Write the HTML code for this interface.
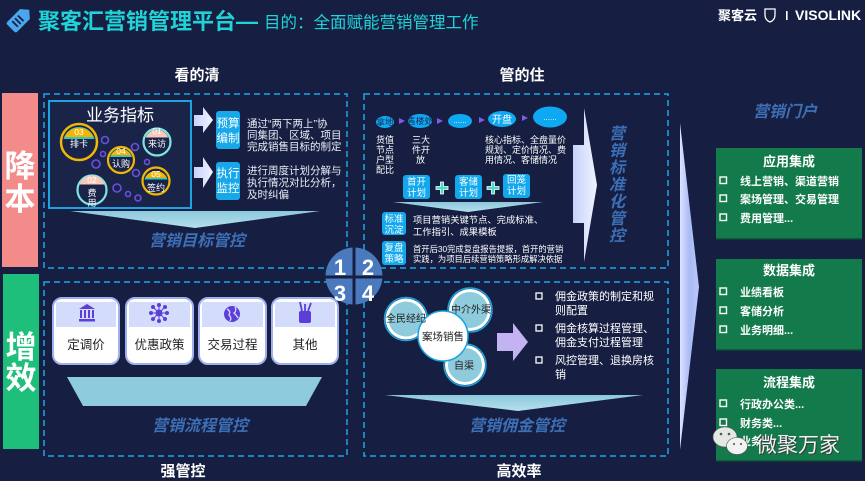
<!DOCTYPE html>
<html><head><meta charset="utf-8">
<style>
html,body{margin:0;padding:0;background:#161f42;}
svg{display:block;}
text{font-family:"Liberation Sans","Noto Sans CJK SC",sans-serif;}
.it{font-style:italic;font-weight:bold;fill:#3d6fb6;}
.w{fill:#fff;}
</style></head><body>
<svg width="865" height="481" viewBox="0 0 865 481" xmlns="http://www.w3.org/2000/svg">
<defs>
<linearGradient id="spike" x1="0" x2="1" y1="0" y2="0"><stop offset="0" stop-color="#c6d2fb"/><stop offset="1" stop-color="#f0f4ff"/></linearGradient>
<linearGradient id="big" x1="0" x2="1" y1="0" y2="0"><stop offset="0" stop-color="#dbe3ff"/><stop offset="0.5" stop-color="#a9baf5"/><stop offset="1" stop-color="#b9c7f8"/></linearGradient>
<linearGradient id="fun" x1="0" x2="0" y1="0" y2="1"><stop offset="0" stop-color="#8cc8dc"/><stop offset="1" stop-color="#b5e0ec"/></linearGradient>
</defs>
<rect width="865" height="481" fill="#161f42"/>

<!-- header -->
<g transform="translate(20,19) rotate(-45)">
<path d="M-11,-7 L7,-7 L13,0 L7,7 L-11,7 Q-13,7 -13,5 L-13,-5 Q-13,-7 -11,-7Z" fill="#4ba6ef"/>
<line x1="-7" y1="-4" x2="-7" y2="4" stroke="#161f42" stroke-width="1.8"/>
<line x1="-3" y1="-4" x2="-3" y2="4" stroke="#161f42" stroke-width="1.8"/>
<line x1="1" y1="-4" x2="1" y2="4" stroke="#161f42" stroke-width="1.8"/>
</g>
<text x="38" y="29" font-size="22" font-weight="bold" fill="#20d3d6">聚客汇营销管理平台—</text>
<text x="264" y="28" font-size="16.5" fill="#20d3d6">目的：全面赋能营销管理工作</text>
<text x="718" y="20" font-size="13" font-weight="bold" class="w">聚客云</text>
<path d="M765,9 L775,9 L775,15 Q775,20 770,22 Q765,20 765,15 Z" fill="none" stroke="#fff" stroke-width="1.3"/>
<rect x="786" y="11" width="1.6" height="9" fill="#fff"/>
<text x="795" y="20" font-size="14" font-weight="bold" class="w">VISOLINK</text>

<text x="197" y="80" font-size="15" font-weight="bold" class="w" text-anchor="middle">看的清</text>
<text x="522" y="80" font-size="15" font-weight="bold" class="w" text-anchor="middle">管的住</text>

<!-- side bars -->
<rect x="2" y="93" width="36" height="174" fill="#f28b8a"/>
<text x="20" y="177" font-size="31" font-weight="bold" class="w" text-anchor="middle">降</text>
<text x="20" y="210" font-size="31" font-weight="bold" class="w" text-anchor="middle">本</text>
<rect x="3" y="274" width="36" height="175" fill="#1dbf7a"/>
<text x="21" y="358" font-size="31" font-weight="bold" class="w" text-anchor="middle">增</text>
<text x="21" y="389" font-size="31" font-weight="bold" class="w" text-anchor="middle">效</text>

<!-- dashed boxes -->
<g fill="none" stroke="#1ba7e6" stroke-width="1.5" stroke-dasharray="6 4">
<rect x="44" y="94" width="303" height="174"/>
<rect x="364" y="94" width="304" height="174"/>
<rect x="44" y="282" width="303" height="174"/>
<rect x="364" y="282" width="304" height="174"/>
</g>

<!-- box 1 -->
<rect x="49" y="101" width="142" height="107" fill="#1a2449" stroke="#1da3e2" stroke-width="2"/>
<text x="120" y="121" font-size="17" class="w" text-anchor="middle">业务指标</text>
<g fill="none" stroke="#6a4fe0" stroke-width="1.6">
<circle cx="105" cy="140" r="3.5"/><circle cx="103" cy="154" r="2.5"/><circle cx="96" cy="164" r="4"/>
<circle cx="135" cy="147" r="3.5"/><circle cx="147" cy="162" r="2.5"/><circle cx="136" cy="173" r="3.5"/>
<circle cx="117" cy="188" r="4"/><circle cx="128" cy="194" r="2.5"/><circle cx="138" cy="198" r="3"/>
</g>
<!-- 03 -->
<circle cx="79" cy="142" r="18" fill="#1a2449" stroke="#f2b705" stroke-width="2.5"/>
<path d="M63.5,139 A16,16 0 0 1 94.5,139 Z" fill="#30c8c0"/>
<path d="M64.5,137 A16,16 0 0 1 93.5,137 Z" fill="#f5b400"/>
<text x="79" y="135" font-size="8.5" class="w" text-anchor="middle">03</text>
<text x="79" y="147" font-size="9" class="w" text-anchor="middle">排卡</text>
<!-- 01 -->
<circle cx="157" cy="142" r="13.5" fill="#1a2449" stroke="#7fe5df" stroke-width="2.2"/>
<path d="M145.8,137.5 A12,12 0 0 1 168.2,137.5 Z" fill="#f8c8b8"/>
<text x="157" y="134" font-size="8.5" class="w" text-anchor="middle">01</text>
<text x="157" y="147" font-size="9" class="w" text-anchor="middle">来访</text>
<!-- 04 -->
<circle cx="121" cy="160" r="13" fill="#1a2449" stroke="#f2b705" stroke-width="2.2"/>
<path d="M110,157 A11.5,11.5 0 0 1 132,157 Z" fill="#30c8c0"/>
<path d="M110.8,155.3 A11.5,11.5 0 0 1 131.2,155.3 Z" fill="#f5b400"/>
<text x="121" y="154" font-size="8.5" class="w" text-anchor="middle">04</text>
<text x="121" y="167" font-size="9" class="w" text-anchor="middle">认购</text>
<!-- 02 -->
<circle cx="92" cy="190" r="14.5" fill="#1a2449" stroke="#7fe5df" stroke-width="2.2"/>
<path d="M79.6,184.5 A13,13 0 0 1 104.4,184.5 Z" fill="#f8c8b8"/>
<text x="92" y="183" font-size="8.5" class="w" text-anchor="middle">02</text>
<text x="92" y="196" font-size="9" class="w" text-anchor="middle">费</text>
<text x="92" y="206" font-size="9" class="w" text-anchor="middle">用</text>
<!-- 05 -->
<circle cx="156" cy="181" r="13.5" fill="#1a2449" stroke="#f2b705" stroke-width="2.2"/>
<path d="M144.5,179.5 A12,12 0 0 1 167.5,179.5 Z" fill="#30c8c0"/>
<path d="M145.2,177.8 A12,12 0 0 1 166.8,177.8 Z" fill="#f5b400"/>
<text x="156" y="177" font-size="8.5" class="w" text-anchor="middle">05</text>
<text x="156" y="191" font-size="9" class="w" text-anchor="middle">签约</text>

<path d="M194,115 L203,115 L203,107 L213,120 L203,133 L203,126 L194,126 Z" fill="url(#spike)"/>
<path d="M194,167 L203,167 L203,157 L213,172 L203,188 L203,178 L194,178 Z" fill="url(#spike)"/>
<rect x="216" y="111" width="24" height="38" rx="3" fill="#18a8ea"/>
<text x="228" y="127" font-size="11.5" class="w" text-anchor="middle">预算</text>
<text x="228" y="142" font-size="11.5" class="w" text-anchor="middle">编制</text>
<rect x="216" y="162" width="24" height="38" rx="3" fill="#18a8ea"/>
<text x="228" y="177" font-size="11.5" class="w" text-anchor="middle">执行</text>
<text x="228" y="192" font-size="11.5" class="w" text-anchor="middle">监控</text>
<g font-size="10.5" fill="#e9edf6">
<text x="247" y="127">通过“两下两上”协</text>
<text x="247" y="138.5">同集团、区域、项目</text>
<text x="247" y="150">完成销售目标的制定</text>
<text x="247" y="174">进行周度计划分解与</text>
<text x="247" y="186">执行情况对比分析，</text>
<text x="247" y="198">及时纠偏</text>
</g>
<path d="M70,211 L320,211 L195,228 Z" fill="url(#fun)"/>
<text x="197" y="246" font-size="16" class="it" text-anchor="middle">营销目标管控</text>

<!-- box 2 -->
<g fill="#0fa8f2">
<ellipse cx="385" cy="122" rx="9" ry="6"/>
<ellipse cx="420" cy="121" rx="12" ry="7"/>
<ellipse cx="460" cy="121" rx="12" ry="7"/>
<ellipse cx="502" cy="119" rx="14" ry="8"/>
<ellipse cx="550" cy="117" rx="17" ry="10.5"/>
</g>
<g fill="#7c5ee6">
<path d="M399,118 L405,121 L399,124 Z"/><path d="M437,118 L443,121 L437,124 Z"/>
<path d="M479,117 L485,120 L479,123 Z"/><path d="M522,115 L528,118 L522,121 Z"/>
</g>
<text x="385" y="125" font-size="8.5" fill="#1b2750" text-anchor="middle">拿地</text>
<text x="420" y="124" font-size="8.5" fill="#1b2750" text-anchor="middle">售楼处</text>
<text x="460" y="123" font-size="8" class="w" text-anchor="middle">......</text>
<text x="502" y="123" font-size="10" class="w" text-anchor="middle">开盘</text>
<text x="550" y="120" font-size="8" class="w" text-anchor="middle">......</text>
<g font-size="9" class="w">
<text x="376" y="143">货值</text><text x="376" y="153">节点</text><text x="376" y="163">户型</text><text x="376" y="173">配比</text>
<text x="412" y="143">三大</text><text x="412" y="153">件开</text><text x="416" y="163">放</text>
<text x="485" y="143">核心指标、全盘量价</text><text x="485" y="153">规划、定价情况、费</text><text x="485" y="163">用情况、客储情况</text>
</g>
<g fill="#12a8ee">
<rect x="403" y="175" width="27" height="24" rx="3"/>
<rect x="455" y="175" width="27" height="24" rx="3"/>
<rect x="503" y="174" width="27" height="24" rx="3"/>
</g>
<g font-size="9.5" class="w" text-anchor="middle">
<text x="416.5" y="185">首开</text><text x="416.5" y="196">计划</text>
<text x="468.5" y="185">客储</text><text x="468.5" y="196">计划</text>
<text x="516.5" y="183">回笼</text><text x="516.5" y="194">计划</text>
</g>
<g fill="#3fe0c4" stroke="#fff" stroke-width="0.8">
<path d="M440.5,182 h3 v4.5 h4.5 v3 h-4.5 v4.5 h-3 v-4.5 h-4.5 v-3 h4.5 Z"/>
<path d="M491.5,182 h3 v4.5 h4.5 v3 h-4.5 v4.5 h-3 v-4.5 h-4.5 v-3 h4.5 Z"/>
</g>
<path d="M393,202 L543,202 L468,212 Z" fill="url(#fun)"/>
<rect x="382" y="212" width="24" height="23" rx="3" fill="#12a8ee"/>
<text x="394" y="222" font-size="9.5" class="w" text-anchor="middle">标准</text>
<text x="394" y="233" font-size="9.5" class="w" text-anchor="middle">沉淀</text>
<rect x="382" y="241" width="24" height="24" rx="3" fill="#12a8ee"/>
<text x="394" y="251" font-size="9.5" class="w" text-anchor="middle">复盘</text>
<text x="394" y="262" font-size="9.5" class="w" text-anchor="middle">策略</text>
<text x="413" y="223" font-size="9.3" class="w">项目营销关键节点、完成标准、</text>
<text x="413" y="235" font-size="9.3" class="w">工作指引、成果模板</text>
<text x="413" y="252" font-size="8.3" class="w">首开后30完成复盘报告提报，首开的营销</text>
<text x="413" y="262" font-size="8.3" class="w">实践，为项目后续营销策略形成解决依据</text>
<path d="M573,145 L584,145 L584,108 L597,185 L584,262 L584,223 L573,223 Z" fill="url(#spike)"/>
<g font-size="16" class="it" text-anchor="middle">
<text x="617" y="139">营</text><text x="617" y="156">销</text><text x="617" y="173">标</text>
<text x="617" y="190">准</text><text x="617" y="207">化</text><text x="617" y="224">管</text><text x="617" y="241">控</text>
</g>

<!-- box 3 -->
<g>
<rect x="53" y="298" width="66" height="66" rx="9" fill="#fff" stroke="#9fb0ef" stroke-width="2"/>
<rect x="126" y="298" width="67" height="66" rx="9" fill="#fff" stroke="#9fb0ef" stroke-width="2"/>
<rect x="199" y="298" width="67" height="66" rx="9" fill="#fff" stroke="#9fb0ef" stroke-width="2"/>
<rect x="272" y="298" width="66" height="66" rx="9" fill="#fff" stroke="#9fb0ef" stroke-width="2"/>
<rect x="56" y="302" width="60" height="25" fill="#d3ddfb"/>
<rect x="129" y="302" width="61" height="25" fill="#d3ddfb"/>
<rect x="202" y="302" width="61" height="25" fill="#d3ddfb"/>
<rect x="275" y="302" width="60" height="25" fill="#d3ddfb"/>
</g>
<g fill="#5b3fd8">
<path d="M79,309 L87,304 L95,309 Z"/>
<rect x="80" y="310" width="2" height="8"/><rect x="84" y="310" width="2" height="8"/><rect x="88" y="310" width="2" height="8"/><rect x="92" y="310" width="2" height="8"/>
<rect x="79" y="319" width="16" height="2.5"/>
</g>
<g stroke="#5b3fd8" stroke-width="1" fill="#5b3fd8">
<line x1="151" y1="313" x2="167" y2="313"/><line x1="159" y1="305" x2="159" y2="321"/>
<line x1="153" y1="307" x2="165" y2="319"/><line x1="165" y1="307" x2="153" y2="319"/>
<circle cx="159" cy="313" r="3"/>
<circle cx="151" cy="313" r="1.5"/><circle cx="167" cy="313" r="1.5"/><circle cx="159" cy="305" r="1.5"/><circle cx="159" cy="321" r="1.5"/>
<circle cx="153" cy="307" r="1.5"/><circle cx="165" cy="307" r="1.5"/><circle cx="153" cy="319" r="1.5"/><circle cx="165" cy="319" r="1.5"/>
</g>
<circle cx="232" cy="314" r="8" fill="#5b3fd8"/>
<path d="M227,309 Q231,311 229,315 Q232,318 230,321 M235,307 Q237,311 234,313 Q237,316 238,318" stroke="#d3ddfb" stroke-width="1.3" fill="none"/>
<rect x="299" y="311" width="12" height="12" rx="2" fill="#5b3fd8"/>
<g stroke="#5b3fd8" stroke-width="1.8"><line x1="302" y1="311" x2="300" y2="302"/><line x1="305" y1="311" x2="305" y2="304"/><line x1="308" y1="311" x2="311" y2="303"/></g>
<g font-size="12.5" fill="#222" text-anchor="middle">
<text x="86" y="349">定调价</text><text x="159.5" y="349">优惠政策</text><text x="232.5" y="349">交易过程</text><text x="305" y="349">其他</text>
</g>
<path d="M67,377 L322,377 L306,406 L83,406 Z" fill="#8ecbdc"/>
<text x="200" y="431" font-size="16" class="it" text-anchor="middle">营销流程管控</text>
<text x="183" y="476" font-size="15" font-weight="bold" class="w" text-anchor="middle">强管控</text>

<!-- box 4 -->
<g>
<circle cx="406" cy="319" r="21.5" fill="none" stroke="#1aa3e2" stroke-width="1.5"/>
<circle cx="406" cy="319" r="20.5" fill="#fff"/><circle cx="406" cy="319" r="17.5" fill="#8ecbdc"/>
<circle cx="470" cy="310" r="22" fill="none" stroke="#1aa3e2" stroke-width="1.5"/>
<circle cx="470" cy="310" r="21" fill="#fff"/><circle cx="470" cy="310" r="18" fill="#8ecbdc"/>
<circle cx="465" cy="365" r="21" fill="none" stroke="#1aa3e2" stroke-width="1.5"/>
<circle cx="465" cy="365" r="20" fill="#fff"/><circle cx="465" cy="365" r="17" fill="#8ecbdc"/>
<circle cx="443" cy="336" r="25" fill="#fff" stroke="#1aa3e2" stroke-width="1.5"/>
</g>
<g font-size="10" fill="#222" text-anchor="middle">
<text x="406" y="322">全民经纪</text><text x="471" y="313">中介外渠</text><text x="464" y="369">自渠</text>
<text x="443" y="340" font-size="10.5">案场销售</text>
</g>
<path d="M497,333 L513,333 L513,323 L528,342 L513,361 L513,351 L497,351 Z" fill="#c3b3f2"/>
<g fill="none" stroke="#fff" stroke-width="1.3">
<rect x="536" y="293" width="6" height="6"/><rect x="536" y="325" width="6" height="6"/><rect x="536" y="357" width="6" height="6"/>
</g>
<g font-size="11" class="w">
<text x="555" y="300">佣金政策的制定和规</text><text x="555" y="314">则配置</text>
<text x="555" y="332">佣金核算过程管理、</text><text x="555" y="346">佣金支付过程管理</text>
<text x="555" y="364">风控管理、退换房核</text><text x="555" y="378">销</text>
</g>
<path d="M385,395 L643,395 L518,411 Z" fill="url(#fun)"/>
<text x="517" y="431" font-size="16" class="it" text-anchor="middle">营销佣金管控</text>
<text x="519" y="476" font-size="15" font-weight="bold" class="w" text-anchor="middle">高效率</text>

<!-- center 1234 -->
<circle cx="354" cy="276" r="28.5" fill="#4a79bd"/>
<line x1="354" y1="246" x2="354" y2="306" stroke="#161f42" stroke-width="3"/>
<line x1="324" y1="277" x2="384" y2="277" stroke="#161f42" stroke-width="3"/>
<g font-size="22" font-weight="bold" class="w" text-anchor="middle">
<text x="340" y="275">1</text><text x="368" y="275">2</text><text x="340" y="301">3</text><text x="368" y="301">4</text>
</g>

<!-- big spike -->
<path d="M680,123 L699,287 L680,450 Z" fill="url(#big)"/>

<!-- right panel -->
<text x="785" y="117" font-size="16" class="it" text-anchor="middle">营销门户</text>
<g fill="#137a4b">
<rect x="716" y="148" width="146" height="91"/>
<rect x="716" y="259" width="146" height="91"/>
<rect x="716" y="369" width="146" height="92"/>
</g>
<g fill="#0d5a37">
<rect x="716" y="238" width="146" height="1.5"/><rect x="716" y="349" width="146" height="1.5"/><rect x="716" y="460" width="146" height="1.5"/>
</g>
<g font-size="13" font-weight="bold" class="w" text-anchor="middle">
<text x="789" y="166">应用集成</text><text x="789" y="275">数据集成</text><text x="789" y="387">流程集成</text>
</g>
<g fill="none" stroke="#fff" stroke-width="1.4">
<rect x="720" y="177" width="6.5" height="6.5"/><rect x="720" y="195" width="6.5" height="6.5"/><rect x="720" y="214" width="6.5" height="6.5"/>
<rect x="720" y="288" width="6.5" height="6.5"/><rect x="720" y="307" width="6.5" height="6.5"/><rect x="720" y="326" width="6.5" height="6.5"/>
<rect x="720" y="400" width="6.5" height="6.5"/><rect x="720" y="419" width="6.5" height="6.5"/><rect x="720" y="437" width="6.5" height="6.5"/>
</g>
<g font-size="11" font-weight="bold" class="w">
<text x="740" y="185">线上营销、渠道营销</text><text x="740" y="203">案场管理、交易管理</text><text x="740" y="222">费用管理...</text>
<text x="740" y="296">业绩看板</text><text x="740" y="315">客储分析</text><text x="740" y="334">业务明细...</text>
<text x="740" y="408">行政办公类...</text><text x="740" y="427">财务类...</text><text x="740" y="445">业务...</text>
</g>

<!-- watermark -->
<ellipse cx="725" cy="437" rx="12" ry="10" fill="#e4e8e4" stroke="#555" stroke-width="0.6"/>
<ellipse cx="737" cy="446" rx="10.5" ry="8.5" fill="#f2f2f2" stroke="#555" stroke-width="0.6"/>
<circle cx="721" cy="434" r="1.3" fill="#555"/><circle cx="729" cy="434" r="1.3" fill="#555"/>
<circle cx="734" cy="444" r="1.1" fill="#666"/><circle cx="741" cy="444" r="1.1" fill="#666"/>
<text x="756" y="452" font-size="21" fill="#3a3a3a" transform="translate(1,1)">微聚万家</text>
<text x="756" y="452" font-size="21" fill="#f2f2f2">微聚万家</text>
</svg>
</body></html>
